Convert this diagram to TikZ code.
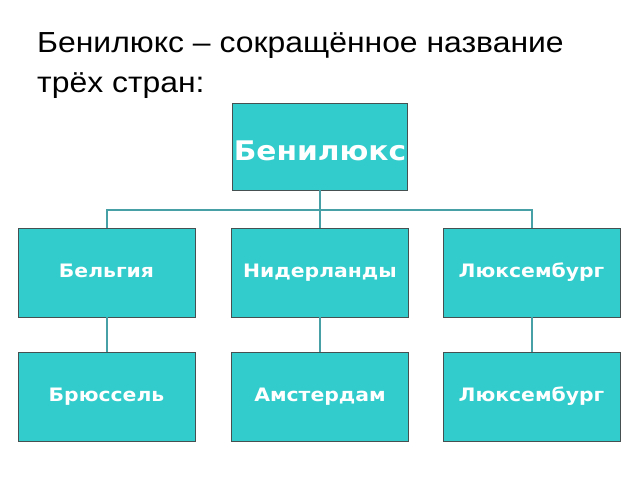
\documentclass[tikz,border=0pt]{standalone}
\usepackage{fontspec}
\setmainfont{Liberation Sans}
\newfontfamily\boxfont{DejaVu Sans}
\usetikzlibrary{positioning}

\definecolor{boxteal}{RGB}{51,204,204}
\definecolor{boxedge}{RGB}{70,80,80}
\definecolor{linkteal}{RGB}{70,160,165}

% the slide is a little wider than tall
\newcommand{\wide}[1]{\scalebox{1.1}[1]{#1}}

\begin{document}
\begin{tikzpicture}[
            x=1pt, y=-1pt,
            country/.style={rectangle, draw=boxedge, line width=0.8pt, fill=boxteal,
                minimum width=177pt, minimum height=89pt, inner sep=0pt,
                text height=13pt, text depth=4pt,
                text=white, font=\boxfont\bfseries\fontsize{18.5}{20}\selectfont},
            link/.style={draw=linkteal, line width=2pt}
            ]
            \useasboundingbox (0,0) rectangle (640,480);

            % title
            \node[anchor=north west, align=left, inner sep=0pt,
                font=\fontsize{29}{40}\selectfont] (title) at (37,32)
                {\wide{Бенилюкс -- сокращённое название}\\\wide{трёх стран:}};

            % top box
            \node[country, minimum width=175pt, minimum height=87pt,
                text height=30pt, text depth=3pt,
                font=\boxfont\bfseries\fontsize{27}{30}\selectfont] (benelux) at (320,146.5) {\wide{Бенилюкс}};

            % countries
            \node[country] (belgium) at (106.5,272.5) {\wide{Бельгия}};
            \node[country] (netherlands) at (320,272.5) {\wide{Нидерланды}};
            \node[country] (luxembourg) at (531.5,272.5) {\wide{Люксембург}};

            % capitals
            \node[country] (brussels) at (106.5,396.5) {\wide{Брюссель}};
            \node[country] (amsterdam) at (320,396.5) {\wide{Амстердам}};
            \node[country] (luxcity) at (531.5,396.5) {\wide{Люксембург}};

            \coordinate (bus) at (320,210);

            \foreach \x in {belgium,netherlands,luxembourg}{
                \draw[link] (benelux.south) -- (benelux.south |- bus) -| (\x.north);
            }

            \draw[link] (belgium) -- (brussels);
            \draw[link] (netherlands) -- (amsterdam);
            \draw[link] (luxembourg) -- (luxcity);
        \end{tikzpicture}
\end{document}
